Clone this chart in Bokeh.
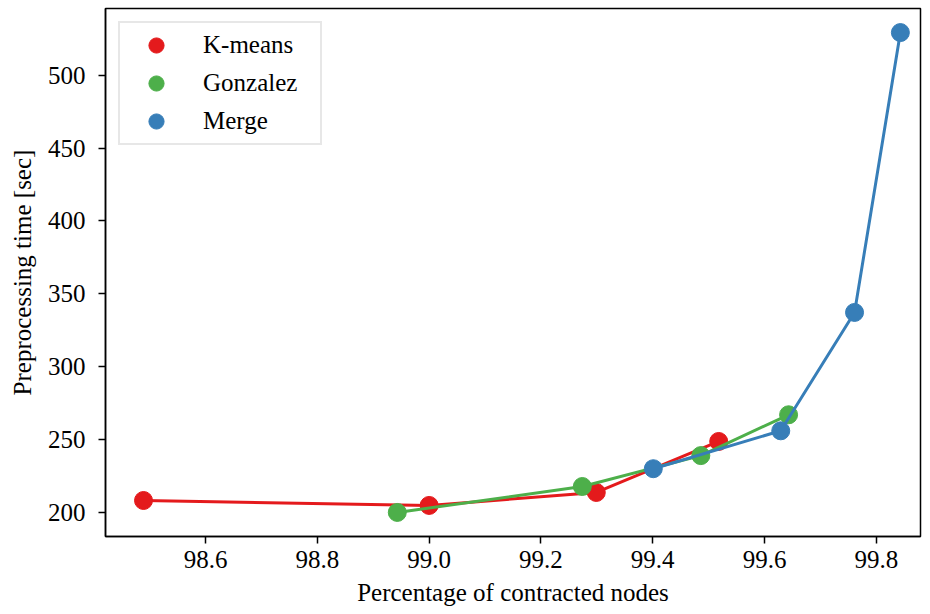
from bokeh.plotting import figure
from bokeh.models import Range1d, Legend, LegendItem, FixedTicker, NumeralTickFormatter
from bokeh.embed import file_html
from bokeh.resources import INLINE

kmeans_x = [98.489, 99.000, 99.299, 99.518]
kmeans_y = [208.2, 204.8, 213.7, 248.7]
gonzalez_x = [98.943, 99.274, 99.486, 99.643]
gonzalez_y = [200.0, 217.8, 239.0, 267.0]
merge_x = [99.401, 99.629, 99.761, 99.843]
merge_y = [230.0, 256.0, 337.2, 529.2]

x_ticks = [98.6, 98.8, 99.0, 99.2, 99.4, 99.6, 99.8]
y_ticks = [200, 250, 300, 350, 400, 450, 500]

colors = {"K-means": "#e41a1c", "Gonzalez": "#4daf4a", "Merge": "#377eb8"}
FONT = "Liberation Serif"

p = figure(width=930, height=614, output_backend="svg", toolbar_location=None,
           x_range=Range1d(98.421, 99.879), y_range=Range1d(183.5, 545.7),
           min_border_left=105, min_border_right=10, min_border_top=8, min_border_bottom=78)

p.xgrid.visible = False
p.ygrid.visible = False
p.outline_line_color = "black"
p.outline_line_width = 1.5
p.outline_line_alpha = 1.0

items = []
for name, xs, ys in [("K-means", kmeans_x, kmeans_y),
                     ("Gonzalez", gonzalez_x, gonzalez_y),
                     ("Merge", merge_x, merge_y)]:
    c = colors[name]
    p.line(xs, ys, line_color=c, line_width=3)
    r = p.scatter(xs, ys, size=18, fill_color=c, line_color=c)
    items.append(LegendItem(label=name, renderers=[r]))

legend = Legend(items=items, location="top_left")
legend.label_text_font = FONT
legend.label_text_font_size = "25px"
legend.label_text_color = "black"
legend.border_line_color = "#d0d0d0"
legend.border_line_width = 2
legend.background_fill_alpha = 0.8
legend.margin = 13
legend.padding = 3
legend.spacing = 0
legend.glyph_width = 66
legend.glyph_height = 38
legend.label_height = 29
legend.label_width = 114
legend.label_standoff = 14
p.add_layout(legend)

for ax in p.xaxis + p.yaxis:
    ax.major_label_text_font = FONT
    ax.major_label_text_font_size = "25px"
    ax.major_label_text_color = "black"
    ax.axis_label_text_font = FONT
    ax.axis_label_text_font_size = "25px"
    ax.axis_label_text_font_style = "normal"
    ax.axis_label_text_color = "black"
    ax.minor_tick_line_color = None
    ax.major_tick_out = 7
    ax.major_tick_in = 0
    ax.major_tick_line_width = 1.5
    ax.axis_line_width = 1.5

p.xaxis.ticker = FixedTicker(ticks=x_ticks)
p.yaxis.ticker = FixedTicker(ticks=y_ticks)
p.xaxis.formatter = NumeralTickFormatter(format="0.0")
p.xaxis.axis_label = "Percentage of contracted nodes"
p.yaxis.axis_label = "Preprocessing time [sec]"
p.xaxis.major_label_standoff = 7
p.yaxis.major_label_standoff = 13
p.xaxis.axis_label_standoff = 8
p.yaxis.axis_label_standoff = 9

open("out.html", "w").write(file_html(p, INLINE))
